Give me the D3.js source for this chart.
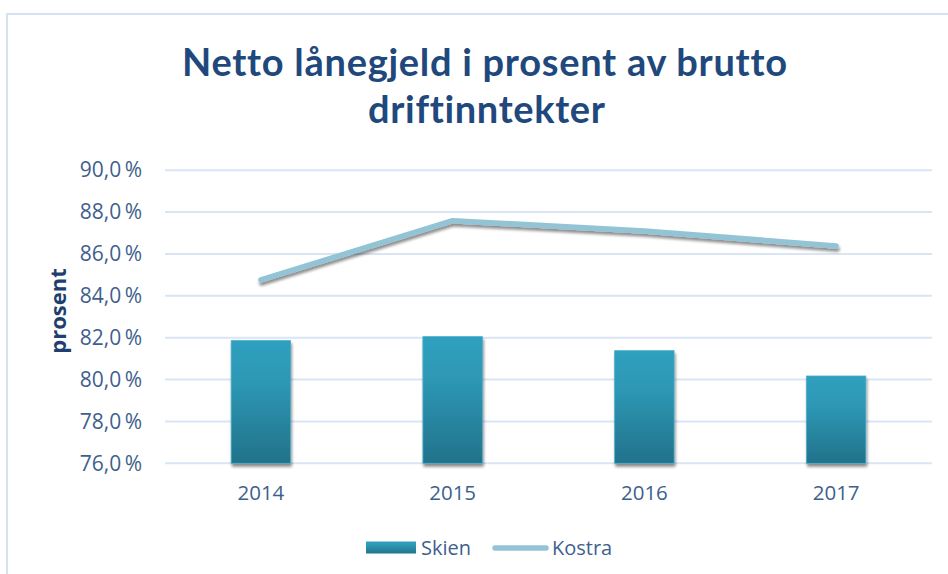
<!DOCTYPE html>
<html><head><meta charset="utf-8">
<script src="https://cdn.jsdelivr.net/npm/d3@7"></script>
<style>body{margin:0;background:#fff}svg{display:block}</style>
</head><body>
<script>
const years = ["2014","2015","2016","2017"];
const skien = [81.86, 82.05, 81.38, 80.17];
const kostra = [84.76, 87.59, 87.1, 86.38];
const yTicks = [76,78,80,82,84,86,88,90];

(function(){
const W = 948, H = 574;
const svg = d3.select("body").append("svg").attr("width", W).attr("height", H);
const defs = svg.append("defs");
const g1 = defs.append("linearGradient").attr("id","barg").attr("x1",0).attr("y1",0).attr("x2",0).attr("y2",1);
g1.append("stop").attr("offset","0%").attr("stop-color","#2fa0bf");
g1.append("stop").attr("offset","35%").attr("stop-color","#2d97b4");
g1.append("stop").attr("offset","100%").attr("stop-color","#22728a");
const f = defs.append("filter").attr("id","sh").attr("x","-20%").attr("y","-20%").attr("width","140%").attr("height","160%");
f.append("feGaussianBlur").attr("in","SourceAlpha").attr("stdDeviation",1.5).attr("result","b");
f.append("feOffset").attr("in","b").attr("dx",1).attr("dy",2.5).attr("result","o");
f.append("feComponentTransfer").attr("in","o").attr("result","o2").append("feFuncA").attr("type","linear").attr("slope",0.45);
const fm = f.append("feMerge"); fm.append("feMergeNode").attr("in","o2"); fm.append("feMergeNode").attr("in","SourceGraphic");

// chart border
svg.append("rect").attr("x",7).attr("y",14).attr("width",W+20).attr("height",H+20)
  .attr("fill","#fff").attr("stroke","#d5e2f3").attr("stroke-width",2);

const pl = 165, pr = 932, pt = 170.2, pb = 463.3;
const x = d3.scaleBand().domain(years).range([pl, pr]).padding(0);
const y = d3.scaleLinear().domain([76, 90]).range([pb, pt]);

// title
const title = svg.append("g").attr("fill","#1f497d")
  .style("font-family","Lato, 'Open Sans', sans-serif").style("font-weight","bold").style("font-size","38px")
  .style("font-variant-ligatures","none");
title.append("text").attr("x",182).attr("y",76).attr("textLength",605).attr("lengthAdjust","spacing")
  .text("Netto lånegjeld i prosent av brutto");
title.append("text").attr("x",368).attr("y",123).attr("textLength",237).attr("lengthAdjust","spacing")
  .text("driftinntekter");

// gridlines
svg.append("g").selectAll("line").data(yTicks).join("line")
  .attr("x1",pl).attr("x2",pr).attr("y1",d=>y(d)).attr("y2",d=>y(d))
  .attr("stroke","#d9e5f5").attr("stroke-width",2);

// y axis
const yAxis = d3.axisLeft(y).tickValues(yTicks).tickSize(0).tickPadding(0)
  .tickFormat(d => d3.format(".1f")(d).replace(".", ",") + "\u2009%");
const ya = svg.append("g").attr("transform",`translate(142,0)`).call(yAxis);
ya.select(".domain").remove();
ya.selectAll("text").attr("fill","#3e5f8e").style("font-family","'Open Sans', sans-serif").style("font-size","21px");

// x axis
const xAxis = d3.axisBottom(x).tickSize(0).tickPadding(0);
const xa = svg.append("g").attr("transform",`translate(0,${pb+22})`).call(xAxis);
xa.select(".domain").remove();
xa.selectAll("text").attr("fill","#3e5f8e").style("font-family","'Open Sans', sans-serif").style("font-size","20.5px");

// axis title
svg.append("text").attr("transform","translate(66,311) rotate(-90)").attr("text-anchor","middle")
  .attr("fill","#1f3f6e").style("font-family","'Open Sans', sans-serif").style("font-weight","bold").style("font-size","22px")
  .text("prosent");

// bars
const bw = x.bandwidth()*0.31;
svg.append("g").selectAll("rect").data(years).join("rect")
  .attr("x", (d)=>x(d)+x.bandwidth()/2-bw/2)
  .attr("y", (d,i)=>y(skien[i]))
  .attr("width", bw)
  .attr("height", (d,i)=>y(76)-y(skien[i]))
  .attr("fill","url(#barg)").attr("stroke","#4aaecb").attr("stroke-width",0.8)
  .attr("filter","url(#sh)");

// line
const line = d3.line().x((d,i)=>x(years[i])+x.bandwidth()/2).y(d=>y(d));
svg.append("path").datum(kostra).attr("d",line).attr("fill","none")
  .attr("stroke","#92c4d6").attr("stroke-width",5.5).attr("stroke-linecap","round").attr("stroke-linejoin","round")
  .attr("filter","url(#sh)");

// legend
const lg = svg.append("g");
lg.append("rect").attr("x",366).attr("y",541.5).attr("width",50).attr("height",12).attr("fill","url(#barg)");
lg.append("text").attr("x",421).attr("y",555).text("Skien");
lg.append("line").attr("x1",495).attr("x2",546).attr("y1",548).attr("y2",548)
  .attr("stroke","#92c4d6").attr("stroke-width",5.5).attr("stroke-linecap","round");
lg.append("text").attr("x",552).attr("y",555).text("Kostra");
lg.selectAll("text").attr("fill","#3e5f8e").style("font-family","'Open Sans', sans-serif").style("font-size","20px");
})();
</script>
</body></html>
